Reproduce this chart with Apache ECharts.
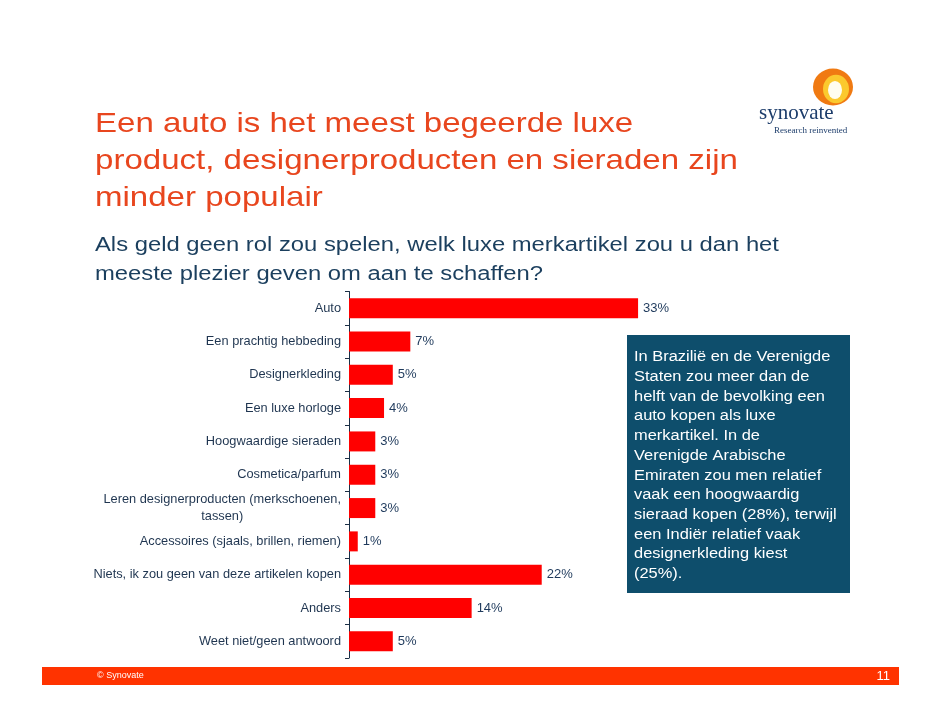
<!DOCTYPE html>
<html><head><meta charset="utf-8">
<script src="https://cdn.jsdelivr.net/npm/echarts@6/dist/echarts.min.js"></script>
<style>html,body{margin:0;padding:0;background:#fff}#c{width:942px;height:728px}</style>
</head><body><div id="c"></div>
<script>
const categories = [
  'Auto',
  'Een prachtig hebbeding',
  'Designerkleding',
  'Een luxe horloge',
  'Hoogwaardige sieraden',
  'Cosmetica/parfum',
  'Leren designerproducten (merkschoenen,\ntassen)',
  'Accessoires (sjaals, brillen, riemen)',
  'Niets, ik zou geen van deze artikelen kopen',
  'Anders',
  'Weet niet/geen antwoord'
];
const values = [33, 7, 5, 4, 3, 3, 3, 1, 22, 14, 5];
const titleText = 'Een auto is het meest begeerde luxe\nproduct, designerproducten en sieraden zijn\nminder populair';
const subtitleText = 'Als geld geen rol zou spelen, welk luxe merkartikel zou u dan het\nmeeste plezier geven om aan te schaffen?';
const boxText = 'In Brazilië en de Verenigde\nStaten zou meer dan de\nhelft van de bevolking een\nauto kopen als luxe\nmerkartikel. In de\nVerenigde Arabische\nEmiraten zou men relatief\nvaak een hoogwaardig\nsieraad kopen (28%), terwijl\neen Indiër relatief vaak\ndesignerkleding kiest\n(25%).';

const chart = echarts.init(document.getElementById('c'));
const font = 'Liberation Sans, Arial, sans-serif';
chart.setOption({
  backgroundColor: '#fff',
  animation: false,
  grid: { left: 349, top: 291.5, width: 350.4, height: 366.5, containLabel: false },
  xAxis: { type: 'value', min: 0, max: 40, show: false },
  yAxis: {
    type: 'category', data: categories, inverse: true,
    axisLine: { lineStyle: { color: '#1B2F45', width: 1 } },
    axisTick: { show: true, length: 4, lineStyle: { color: '#1B2F45' } },
    axisLabel: {
      margin: 8, fontFamily: font, fontSize: 12.8, color: '#1F3550',
      formatter: function (v) {
        return v.split('\n').map(function (l) { return '{c|' + l + '}'; }).join('\n');
      },
      rich: { c: { align: 'center', fontFamily: font, fontSize: 12.8, color: '#1F3550', lineHeight: 17 } }
    }
  },
  series: [{
    type: 'bar', data: values, barCategoryGap: '40%',
    itemStyle: { color: '#FF0000' },
    label: { show: true, position: 'right', distance: 5, formatter: '{c}%',
      fontFamily: font, fontSize: 13, color: '#1F3A5C' }
  }],
  graphic: [
    { type: 'text', x: 95, y: 105.5, scaleX: 1.18,
      style: { text: titleText, fill: '#E8461E', font: '28px ' + font, lineHeight: 37, verticalAlign: 'top' } },
    { type: 'text', x: 95, y: 230.5, scaleX: 1.19,
      style: { text: subtitleText, fill: '#1B3F5E', font: '20px ' + font, lineHeight: 29, verticalAlign: 'top' } },
    { type: 'rect', shape: { x: 627, y: 335, width: 223, height: 258 }, style: { fill: '#0E4E6C' } },
    { type: 'text', x: 634, y: 347, scaleX: 1.06,
      style: { text: boxText, fill: '#fff', font: '15.5px ' + font, lineHeight: 19.73, verticalAlign: 'top' } },
    { type: 'rect', shape: { x: 42, y: 667, width: 857, height: 18 }, style: { fill: '#FF3300' } },
    { type: 'text', x: 97, y: 676, style: { text: '© Synovate', fill: '#fff', font: '9px ' + font, verticalAlign: 'middle' } },
    { type: 'text', x: 890, y: 676, style: { text: '11', fill: '#fff', font: '13px ' + font, align: 'right', verticalAlign: 'middle' } },
    { type: 'circle', x: 833, y: 87, scaleY: 0.92, shape: { cx: 0, cy: 0, r: 20 }, style: { fill: '#F07A12' } },
    { type: 'circle', x: 836, y: 89, scaleY: 1.1, shape: { cx: 0, cy: 0, r: 13 }, style: { fill: '#FBC92E' } },
    { type: 'circle', x: 835, y: 90, scaleY: 1.3, shape: { cx: 0, cy: 0, r: 7 }, style: { fill: '#FFFDF0' } },
    { type: 'text', x: 759, y: 113, style: { text: 'synovate', fill: '#1D3D6B', font: '21px Liberation Serif, serif', verticalAlign: 'middle' } },
    { type: 'text', x: 774, y: 131, style: { text: 'Research reinvented', fill: '#1D3D6B', font: '9px Liberation Serif, serif', verticalAlign: 'middle' } }
  ]
});
</script>
</body></html>
